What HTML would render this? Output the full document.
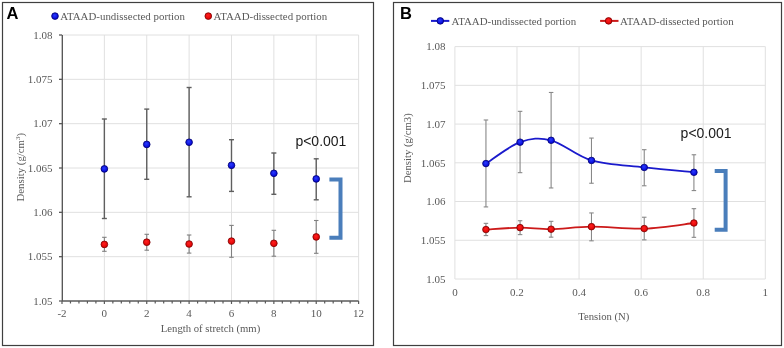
<!DOCTYPE html>
<html><head><meta charset="utf-8"><style>
html,body{margin:0;padding:0;background:#fff;width:784px;height:348px;overflow:hidden}
svg{display:block;will-change:transform}
</style></head><body>
<svg width="784" height="348" viewBox="0 0 784 348">
<defs>
<radialGradient id="gb" cx="0.45" cy="0.4" r="0.6"><stop offset="0" stop-color="#2a3cff"/><stop offset="1" stop-color="#0000d0"/></radialGradient>
<radialGradient id="gr" cx="0.45" cy="0.4" r="0.6"><stop offset="0" stop-color="#ff2020"/><stop offset="1" stop-color="#dd0000"/></radialGradient>
</defs>
<rect x="2.5" y="2.5" width="371" height="343" fill="none" stroke="#3f3f3f" stroke-width="1.2"/>
<text x="6.5" y="19.4" font-family="'Liberation Sans', sans-serif" font-weight="bold" font-size="16.5px" fill="#000">A</text>
<circle cx="55" cy="16.1" r="3.35" fill="url(#gb)" stroke="#000070" stroke-width="0.8"/>
<text x="60.3" y="19.6" font-family="'Liberation Serif', serif" font-size="10.9px" fill="#595959">ATAAD-undissected portion</text>
<circle cx="208.3" cy="16.1" r="3.35" fill="url(#gr)" stroke="#7a0000" stroke-width="0.8"/>
<text x="213.5" y="19.6" font-family="'Liberation Serif', serif" font-size="10.9px" fill="#595959">ATAAD-dissected portion</text>
<line x1="62" y1="256.67" x2="358.6" y2="256.67" stroke="#e0e0e0" stroke-width="1"/>
<line x1="62" y1="212.33" x2="358.6" y2="212.33" stroke="#e0e0e0" stroke-width="1"/>
<line x1="62" y1="168" x2="358.6" y2="168" stroke="#e0e0e0" stroke-width="1"/>
<line x1="62" y1="123.67" x2="358.6" y2="123.67" stroke="#e0e0e0" stroke-width="1"/>
<line x1="62" y1="79.33" x2="358.6" y2="79.33" stroke="#e0e0e0" stroke-width="1"/>
<line x1="62" y1="35" x2="358.6" y2="35" stroke="#e0e0e0" stroke-width="1"/>
<line x1="104.37" y1="35" x2="104.37" y2="301" stroke="#e0e0e0" stroke-width="1"/>
<line x1="146.74" y1="35" x2="146.74" y2="301" stroke="#e0e0e0" stroke-width="1"/>
<line x1="189.11" y1="35" x2="189.11" y2="301" stroke="#e0e0e0" stroke-width="1"/>
<line x1="231.49" y1="35" x2="231.49" y2="301" stroke="#e0e0e0" stroke-width="1"/>
<line x1="273.86" y1="35" x2="273.86" y2="301" stroke="#e0e0e0" stroke-width="1"/>
<line x1="316.23" y1="35" x2="316.23" y2="301" stroke="#e0e0e0" stroke-width="1"/>
<line x1="358.6" y1="35" x2="358.6" y2="301" stroke="#e0e0e0" stroke-width="1"/>
<line x1="62.3" y1="35" x2="62.3" y2="301" stroke="#505050" stroke-width="1.3"/>
<line x1="62" y1="301" x2="358.6" y2="301" stroke="#5a5a5a" stroke-width="1.3"/>
<line x1="59" y1="301" x2="62" y2="301" stroke="#5a5a5a" stroke-width="1.3"/>
<text x="52.6" y="304.7" text-anchor="end" font-family="'Liberation Serif', serif" font-size="11px" fill="#595959">1.05</text>
<line x1="59" y1="256.67" x2="62" y2="256.67" stroke="#5a5a5a" stroke-width="1.3"/>
<text x="52.6" y="260.37" text-anchor="end" font-family="'Liberation Serif', serif" font-size="11px" fill="#595959">1.055</text>
<line x1="59" y1="212.33" x2="62" y2="212.33" stroke="#5a5a5a" stroke-width="1.3"/>
<text x="52.6" y="216.03" text-anchor="end" font-family="'Liberation Serif', serif" font-size="11px" fill="#595959">1.06</text>
<line x1="59" y1="168" x2="62" y2="168" stroke="#5a5a5a" stroke-width="1.3"/>
<text x="52.6" y="171.7" text-anchor="end" font-family="'Liberation Serif', serif" font-size="11px" fill="#595959">1.065</text>
<line x1="59" y1="123.67" x2="62" y2="123.67" stroke="#5a5a5a" stroke-width="1.3"/>
<text x="52.6" y="127.37" text-anchor="end" font-family="'Liberation Serif', serif" font-size="11px" fill="#595959">1.07</text>
<line x1="59" y1="79.33" x2="62" y2="79.33" stroke="#5a5a5a" stroke-width="1.3"/>
<text x="52.6" y="83.03" text-anchor="end" font-family="'Liberation Serif', serif" font-size="11px" fill="#595959">1.075</text>
<line x1="59" y1="35" x2="62" y2="35" stroke="#5a5a5a" stroke-width="1.3"/>
<text x="52.6" y="38.7" text-anchor="end" font-family="'Liberation Serif', serif" font-size="11px" fill="#595959">1.08</text>
<line x1="62" y1="301" x2="62" y2="304" stroke="#5a5a5a" stroke-width="1.2"/>
<line x1="70.47" y1="301" x2="70.47" y2="303.5" stroke="#5a5a5a" stroke-width="1.2"/>
<line x1="78.95" y1="301" x2="78.95" y2="303.5" stroke="#5a5a5a" stroke-width="1.2"/>
<line x1="87.42" y1="301" x2="87.42" y2="303.5" stroke="#5a5a5a" stroke-width="1.2"/>
<line x1="95.9" y1="301" x2="95.9" y2="303.5" stroke="#5a5a5a" stroke-width="1.2"/>
<line x1="104.37" y1="301" x2="104.37" y2="304" stroke="#5a5a5a" stroke-width="1.2"/>
<line x1="112.85" y1="301" x2="112.85" y2="303.5" stroke="#5a5a5a" stroke-width="1.2"/>
<line x1="121.32" y1="301" x2="121.32" y2="303.5" stroke="#5a5a5a" stroke-width="1.2"/>
<line x1="129.79" y1="301" x2="129.79" y2="303.5" stroke="#5a5a5a" stroke-width="1.2"/>
<line x1="138.27" y1="301" x2="138.27" y2="303.5" stroke="#5a5a5a" stroke-width="1.2"/>
<line x1="146.74" y1="301" x2="146.74" y2="304" stroke="#5a5a5a" stroke-width="1.2"/>
<line x1="155.22" y1="301" x2="155.22" y2="303.5" stroke="#5a5a5a" stroke-width="1.2"/>
<line x1="163.69" y1="301" x2="163.69" y2="303.5" stroke="#5a5a5a" stroke-width="1.2"/>
<line x1="172.17" y1="301" x2="172.17" y2="303.5" stroke="#5a5a5a" stroke-width="1.2"/>
<line x1="180.64" y1="301" x2="180.64" y2="303.5" stroke="#5a5a5a" stroke-width="1.2"/>
<line x1="189.11" y1="301" x2="189.11" y2="304" stroke="#5a5a5a" stroke-width="1.2"/>
<line x1="197.59" y1="301" x2="197.59" y2="303.5" stroke="#5a5a5a" stroke-width="1.2"/>
<line x1="206.06" y1="301" x2="206.06" y2="303.5" stroke="#5a5a5a" stroke-width="1.2"/>
<line x1="214.54" y1="301" x2="214.54" y2="303.5" stroke="#5a5a5a" stroke-width="1.2"/>
<line x1="223.01" y1="301" x2="223.01" y2="303.5" stroke="#5a5a5a" stroke-width="1.2"/>
<line x1="231.49" y1="301" x2="231.49" y2="304" stroke="#5a5a5a" stroke-width="1.2"/>
<line x1="239.96" y1="301" x2="239.96" y2="303.5" stroke="#5a5a5a" stroke-width="1.2"/>
<line x1="248.43" y1="301" x2="248.43" y2="303.5" stroke="#5a5a5a" stroke-width="1.2"/>
<line x1="256.91" y1="301" x2="256.91" y2="303.5" stroke="#5a5a5a" stroke-width="1.2"/>
<line x1="265.38" y1="301" x2="265.38" y2="303.5" stroke="#5a5a5a" stroke-width="1.2"/>
<line x1="273.86" y1="301" x2="273.86" y2="304" stroke="#5a5a5a" stroke-width="1.2"/>
<line x1="282.33" y1="301" x2="282.33" y2="303.5" stroke="#5a5a5a" stroke-width="1.2"/>
<line x1="290.81" y1="301" x2="290.81" y2="303.5" stroke="#5a5a5a" stroke-width="1.2"/>
<line x1="299.28" y1="301" x2="299.28" y2="303.5" stroke="#5a5a5a" stroke-width="1.2"/>
<line x1="307.75" y1="301" x2="307.75" y2="303.5" stroke="#5a5a5a" stroke-width="1.2"/>
<line x1="316.23" y1="301" x2="316.23" y2="304" stroke="#5a5a5a" stroke-width="1.2"/>
<line x1="324.7" y1="301" x2="324.7" y2="303.5" stroke="#5a5a5a" stroke-width="1.2"/>
<line x1="333.18" y1="301" x2="333.18" y2="303.5" stroke="#5a5a5a" stroke-width="1.2"/>
<line x1="341.65" y1="301" x2="341.65" y2="303.5" stroke="#5a5a5a" stroke-width="1.2"/>
<line x1="350.13" y1="301" x2="350.13" y2="303.5" stroke="#5a5a5a" stroke-width="1.2"/>
<line x1="358.6" y1="301" x2="358.6" y2="304" stroke="#5a5a5a" stroke-width="1.2"/>
<text x="62" y="316.8" text-anchor="middle" font-family="'Liberation Serif', serif" font-size="11px" fill="#595959">-2</text>
<text x="104.37" y="316.8" text-anchor="middle" font-family="'Liberation Serif', serif" font-size="11px" fill="#595959">0</text>
<text x="146.74" y="316.8" text-anchor="middle" font-family="'Liberation Serif', serif" font-size="11px" fill="#595959">2</text>
<text x="189.11" y="316.8" text-anchor="middle" font-family="'Liberation Serif', serif" font-size="11px" fill="#595959">4</text>
<text x="231.49" y="316.8" text-anchor="middle" font-family="'Liberation Serif', serif" font-size="11px" fill="#595959">6</text>
<text x="273.86" y="316.8" text-anchor="middle" font-family="'Liberation Serif', serif" font-size="11px" fill="#595959">8</text>
<text x="316.23" y="316.8" text-anchor="middle" font-family="'Liberation Serif', serif" font-size="11px" fill="#595959">10</text>
<text x="358.6" y="316.8" text-anchor="middle" font-family="'Liberation Serif', serif" font-size="11px" fill="#595959">12</text>
<text x="210.5" y="331.8" text-anchor="middle" font-family="'Liberation Serif', serif" font-size="10.7px" fill="#595959">Length of stretch (mm)</text>
<text transform="translate(23.8,167.2) rotate(-90)" text-anchor="middle" font-family="'Liberation Serif', serif" font-size="10.8px" fill="#595959">Density (g/cm<tspan font-size="7px" dy="-3.5">3</tspan><tspan dy="3.5">)</tspan></text>
<line x1="104.37" y1="119" x2="104.37" y2="218.5" stroke="#5f5f5f" stroke-width="1.4"/><line x1="101.87" y1="119" x2="106.87" y2="119" stroke="#5f5f5f" stroke-width="1.4"/><line x1="101.87" y1="218.5" x2="106.87" y2="218.5" stroke="#5f5f5f" stroke-width="1.4"/>
<line x1="146.74" y1="109.1" x2="146.74" y2="179.3" stroke="#5f5f5f" stroke-width="1.4"/><line x1="144.24" y1="109.1" x2="149.24" y2="109.1" stroke="#5f5f5f" stroke-width="1.4"/><line x1="144.24" y1="179.3" x2="149.24" y2="179.3" stroke="#5f5f5f" stroke-width="1.4"/>
<line x1="189.11" y1="87.5" x2="189.11" y2="196.8" stroke="#5f5f5f" stroke-width="1.4"/><line x1="186.61" y1="87.5" x2="191.61" y2="87.5" stroke="#5f5f5f" stroke-width="1.4"/><line x1="186.61" y1="196.8" x2="191.61" y2="196.8" stroke="#5f5f5f" stroke-width="1.4"/>
<line x1="231.49" y1="139.7" x2="231.49" y2="191.4" stroke="#5f5f5f" stroke-width="1.4"/><line x1="228.99" y1="139.7" x2="233.99" y2="139.7" stroke="#5f5f5f" stroke-width="1.4"/><line x1="228.99" y1="191.4" x2="233.99" y2="191.4" stroke="#5f5f5f" stroke-width="1.4"/>
<line x1="273.86" y1="153" x2="273.86" y2="194.3" stroke="#5f5f5f" stroke-width="1.4"/><line x1="271.36" y1="153" x2="276.36" y2="153" stroke="#5f5f5f" stroke-width="1.4"/><line x1="271.36" y1="194.3" x2="276.36" y2="194.3" stroke="#5f5f5f" stroke-width="1.4"/>
<line x1="316.23" y1="158.8" x2="316.23" y2="199.8" stroke="#5f5f5f" stroke-width="1.4"/><line x1="313.73" y1="158.8" x2="318.73" y2="158.8" stroke="#5f5f5f" stroke-width="1.4"/><line x1="313.73" y1="199.8" x2="318.73" y2="199.8" stroke="#5f5f5f" stroke-width="1.4"/>
<line x1="104.37" y1="237.3" x2="104.37" y2="251.3" stroke="#808080" stroke-width="1.1"/><line x1="102.12" y1="237.3" x2="106.62" y2="237.3" stroke="#808080" stroke-width="1.1"/><line x1="102.12" y1="251.3" x2="106.62" y2="251.3" stroke="#808080" stroke-width="1.1"/>
<line x1="146.74" y1="234.3" x2="146.74" y2="250.2" stroke="#808080" stroke-width="1.1"/><line x1="144.49" y1="234.3" x2="148.99" y2="234.3" stroke="#808080" stroke-width="1.1"/><line x1="144.49" y1="250.2" x2="148.99" y2="250.2" stroke="#808080" stroke-width="1.1"/>
<line x1="189.11" y1="235" x2="189.11" y2="253.1" stroke="#808080" stroke-width="1.1"/><line x1="186.86" y1="235" x2="191.36" y2="235" stroke="#808080" stroke-width="1.1"/><line x1="186.86" y1="253.1" x2="191.36" y2="253.1" stroke="#808080" stroke-width="1.1"/>
<line x1="231.49" y1="225.4" x2="231.49" y2="257.3" stroke="#808080" stroke-width="1.1"/><line x1="229.24" y1="225.4" x2="233.74" y2="225.4" stroke="#808080" stroke-width="1.1"/><line x1="229.24" y1="257.3" x2="233.74" y2="257.3" stroke="#808080" stroke-width="1.1"/>
<line x1="273.86" y1="230.3" x2="273.86" y2="256.2" stroke="#808080" stroke-width="1.1"/><line x1="271.61" y1="230.3" x2="276.11" y2="230.3" stroke="#808080" stroke-width="1.1"/><line x1="271.61" y1="256.2" x2="276.11" y2="256.2" stroke="#808080" stroke-width="1.1"/>
<line x1="316.23" y1="220.5" x2="316.23" y2="253.3" stroke="#808080" stroke-width="1.1"/><line x1="313.98" y1="220.5" x2="318.48" y2="220.5" stroke="#808080" stroke-width="1.1"/><line x1="313.98" y1="253.3" x2="318.48" y2="253.3" stroke="#808080" stroke-width="1.1"/>
<circle cx="104.37" cy="168.9" r="3.35" fill="url(#gb)" stroke="#000070" stroke-width="0.8"/>
<circle cx="104.37" cy="244.4" r="3.35" fill="url(#gr)" stroke="#7a0000" stroke-width="0.8"/>
<circle cx="146.74" cy="144.4" r="3.35" fill="url(#gb)" stroke="#000070" stroke-width="0.8"/>
<circle cx="146.74" cy="242.2" r="3.35" fill="url(#gr)" stroke="#7a0000" stroke-width="0.8"/>
<circle cx="189.11" cy="142.25" r="3.35" fill="url(#gb)" stroke="#000070" stroke-width="0.8"/>
<circle cx="189.11" cy="244" r="3.35" fill="url(#gr)" stroke="#7a0000" stroke-width="0.8"/>
<circle cx="231.49" cy="165.3" r="3.35" fill="url(#gb)" stroke="#000070" stroke-width="0.8"/>
<circle cx="231.49" cy="241.1" r="3.35" fill="url(#gr)" stroke="#7a0000" stroke-width="0.8"/>
<circle cx="273.86" cy="173.3" r="3.35" fill="url(#gb)" stroke="#000070" stroke-width="0.8"/>
<circle cx="273.86" cy="243.3" r="3.35" fill="url(#gr)" stroke="#7a0000" stroke-width="0.8"/>
<circle cx="316.23" cy="178.9" r="3.35" fill="url(#gb)" stroke="#000070" stroke-width="0.8"/>
<circle cx="316.23" cy="236.9" r="3.35" fill="url(#gr)" stroke="#7a0000" stroke-width="0.8"/>
<text x="295.4" y="146.1" font-family="'Liberation Sans', sans-serif" font-size="14px" fill="#1a1a1a">p&lt;0.001</text>
<path d="M329.4 179.4 H340.5 V237.8 H329.4" fill="none" stroke="#4a7ebb" stroke-width="4"/>
<rect x="393.5" y="2.5" width="388" height="343" fill="none" stroke="#3f3f3f" stroke-width="1.2"/>
<text x="400" y="19.4" font-family="'Liberation Sans', sans-serif" font-weight="bold" font-size="16.5px" fill="#000">B</text>
<line x1="431" y1="20.9" x2="449.3" y2="20.9" stroke="#1a1acc" stroke-width="2"/>
<circle cx="440.3" cy="20.9" r="3.3" fill="url(#gb)" stroke="#000070" stroke-width="0.8"/>
<text x="451.5" y="24.8" font-family="'Liberation Serif', serif" font-size="10.9px" fill="#595959">ATAAD-undissected portion</text>
<line x1="600.1" y1="20.9" x2="618.5" y2="20.9" stroke="#cc1a1a" stroke-width="2"/>
<circle cx="608.6" cy="20.9" r="3.3" fill="url(#gr)" stroke="#7a0000" stroke-width="0.8"/>
<text x="620" y="24.8" font-family="'Liberation Serif', serif" font-size="10.9px" fill="#595959">ATAAD-dissected portion</text>
<line x1="454.9" y1="279" x2="765.3" y2="279" stroke="#e0e0e0" stroke-width="1"/>
<text x="445.6" y="282.7" text-anchor="end" font-family="'Liberation Serif', serif" font-size="11px" fill="#595959">1.05</text>
<line x1="454.9" y1="240.27" x2="765.3" y2="240.27" stroke="#e0e0e0" stroke-width="1"/>
<text x="445.6" y="243.97" text-anchor="end" font-family="'Liberation Serif', serif" font-size="11px" fill="#595959">1.055</text>
<line x1="454.9" y1="201.53" x2="765.3" y2="201.53" stroke="#e0e0e0" stroke-width="1"/>
<text x="445.6" y="205.23" text-anchor="end" font-family="'Liberation Serif', serif" font-size="11px" fill="#595959">1.06</text>
<line x1="454.9" y1="162.8" x2="765.3" y2="162.8" stroke="#e0e0e0" stroke-width="1"/>
<text x="445.6" y="166.5" text-anchor="end" font-family="'Liberation Serif', serif" font-size="11px" fill="#595959">1.065</text>
<line x1="454.9" y1="124.07" x2="765.3" y2="124.07" stroke="#e0e0e0" stroke-width="1"/>
<text x="445.6" y="127.77" text-anchor="end" font-family="'Liberation Serif', serif" font-size="11px" fill="#595959">1.07</text>
<line x1="454.9" y1="85.33" x2="765.3" y2="85.33" stroke="#e0e0e0" stroke-width="1"/>
<text x="445.6" y="89.03" text-anchor="end" font-family="'Liberation Serif', serif" font-size="11px" fill="#595959">1.075</text>
<line x1="454.9" y1="46.6" x2="765.3" y2="46.6" stroke="#e0e0e0" stroke-width="1"/>
<text x="445.6" y="50.3" text-anchor="end" font-family="'Liberation Serif', serif" font-size="11px" fill="#595959">1.08</text>
<line x1="454.9" y1="46.6" x2="454.9" y2="279" stroke="#e0e0e0" stroke-width="1"/>
<text x="454.9" y="295.8" text-anchor="middle" font-family="'Liberation Serif', serif" font-size="11px" fill="#595959">0</text>
<line x1="516.98" y1="46.6" x2="516.98" y2="279" stroke="#e0e0e0" stroke-width="1"/>
<text x="516.98" y="295.8" text-anchor="middle" font-family="'Liberation Serif', serif" font-size="11px" fill="#595959">0.2</text>
<line x1="579.06" y1="46.6" x2="579.06" y2="279" stroke="#e0e0e0" stroke-width="1"/>
<text x="579.06" y="295.8" text-anchor="middle" font-family="'Liberation Serif', serif" font-size="11px" fill="#595959">0.4</text>
<line x1="641.14" y1="46.6" x2="641.14" y2="279" stroke="#e0e0e0" stroke-width="1"/>
<text x="641.14" y="295.8" text-anchor="middle" font-family="'Liberation Serif', serif" font-size="11px" fill="#595959">0.6</text>
<line x1="703.22" y1="46.6" x2="703.22" y2="279" stroke="#e0e0e0" stroke-width="1"/>
<text x="703.22" y="295.8" text-anchor="middle" font-family="'Liberation Serif', serif" font-size="11px" fill="#595959">0.8</text>
<line x1="765.3" y1="46.6" x2="765.3" y2="279" stroke="#e0e0e0" stroke-width="1"/>
<text x="765.3" y="295.8" text-anchor="middle" font-family="'Liberation Serif', serif" font-size="11px" fill="#595959">1</text>
<text x="603.8" y="320.4" text-anchor="middle" font-family="'Liberation Serif', serif" font-size="10.7px" fill="#595959">Tension (N)</text>
<text transform="translate(411.4,148.1) rotate(-90)" text-anchor="middle" font-family="'Liberation Serif', serif" font-size="10.7px" fill="#595959">Density (g/cm3)</text>
<line x1="485.94" y1="119.99" x2="485.94" y2="206.92" stroke="#888888" stroke-width="1.1"/><line x1="483.69" y1="119.99" x2="488.19" y2="119.99" stroke="#888888" stroke-width="1.1"/><line x1="483.69" y1="206.92" x2="488.19" y2="206.92" stroke="#888888" stroke-width="1.1"/>
<line x1="485.94" y1="223.35" x2="485.94" y2="235.58" stroke="#888888" stroke-width="1.1"/><line x1="483.69" y1="223.35" x2="488.19" y2="223.35" stroke="#888888" stroke-width="1.1"/><line x1="483.69" y1="235.58" x2="488.19" y2="235.58" stroke="#888888" stroke-width="1.1"/>
<line x1="520.08" y1="111.34" x2="520.08" y2="172.67" stroke="#888888" stroke-width="1.1"/><line x1="517.83" y1="111.34" x2="522.33" y2="111.34" stroke="#888888" stroke-width="1.1"/><line x1="517.83" y1="172.67" x2="522.33" y2="172.67" stroke="#888888" stroke-width="1.1"/>
<line x1="520.08" y1="220.73" x2="520.08" y2="234.62" stroke="#888888" stroke-width="1.1"/><line x1="517.83" y1="220.73" x2="522.33" y2="220.73" stroke="#888888" stroke-width="1.1"/><line x1="517.83" y1="234.62" x2="522.33" y2="234.62" stroke="#888888" stroke-width="1.1"/>
<line x1="551.12" y1="92.47" x2="551.12" y2="187.96" stroke="#888888" stroke-width="1.1"/><line x1="548.87" y1="92.47" x2="553.37" y2="92.47" stroke="#888888" stroke-width="1.1"/><line x1="548.87" y1="187.96" x2="553.37" y2="187.96" stroke="#888888" stroke-width="1.1"/>
<line x1="551.12" y1="221.34" x2="551.12" y2="237.15" stroke="#888888" stroke-width="1.1"/><line x1="548.87" y1="221.34" x2="553.37" y2="221.34" stroke="#888888" stroke-width="1.1"/><line x1="548.87" y1="237.15" x2="553.37" y2="237.15" stroke="#888888" stroke-width="1.1"/>
<line x1="591.48" y1="138.07" x2="591.48" y2="183.24" stroke="#888888" stroke-width="1.1"/><line x1="589.23" y1="138.07" x2="593.73" y2="138.07" stroke="#888888" stroke-width="1.1"/><line x1="589.23" y1="183.24" x2="593.73" y2="183.24" stroke="#888888" stroke-width="1.1"/>
<line x1="591.48" y1="212.95" x2="591.48" y2="240.82" stroke="#888888" stroke-width="1.1"/><line x1="589.23" y1="212.95" x2="593.73" y2="212.95" stroke="#888888" stroke-width="1.1"/><line x1="589.23" y1="240.82" x2="593.73" y2="240.82" stroke="#888888" stroke-width="1.1"/>
<line x1="644.24" y1="149.69" x2="644.24" y2="185.78" stroke="#888888" stroke-width="1.1"/><line x1="641.99" y1="149.69" x2="646.49" y2="149.69" stroke="#888888" stroke-width="1.1"/><line x1="641.99" y1="185.78" x2="646.49" y2="185.78" stroke="#888888" stroke-width="1.1"/>
<line x1="644.24" y1="217.23" x2="644.24" y2="239.86" stroke="#888888" stroke-width="1.1"/><line x1="641.99" y1="217.23" x2="646.49" y2="217.23" stroke="#888888" stroke-width="1.1"/><line x1="641.99" y1="239.86" x2="646.49" y2="239.86" stroke="#888888" stroke-width="1.1"/>
<line x1="693.91" y1="154.76" x2="693.91" y2="190.58" stroke="#888888" stroke-width="1.1"/><line x1="691.66" y1="154.76" x2="696.16" y2="154.76" stroke="#888888" stroke-width="1.1"/><line x1="691.66" y1="190.58" x2="696.16" y2="190.58" stroke="#888888" stroke-width="1.1"/>
<line x1="693.91" y1="208.67" x2="693.91" y2="237.33" stroke="#888888" stroke-width="1.1"/><line x1="691.66" y1="208.67" x2="696.16" y2="208.67" stroke="#888888" stroke-width="1.1"/><line x1="691.66" y1="237.33" x2="696.16" y2="237.33" stroke="#888888" stroke-width="1.1"/>
<path d="M485.94 163.59 C491.63 160.02 509.22 146.06 520.08 142.18 C530.95 138.3 539.23 137.26 551.12 140.3 C563.02 143.35 575.96 155.92 591.48 160.44 C607 164.96 627.17 165.45 644.24 167.43 C661.32 169.41 685.63 171.51 693.91 172.32" fill="none" stroke="#1a1acc" stroke-width="1.8"/>
<path d="M485.94 229.55 C491.63 229.23 509.22 227.69 520.08 227.63 C530.95 227.57 539.23 229.36 551.12 229.2 C563.02 229.04 575.96 226.77 591.48 226.67 C607 226.56 627.17 229.2 644.24 228.59 C661.32 227.98 685.63 223.93 693.91 223" fill="none" stroke="#cc1a1a" stroke-width="1.8"/>
<circle cx="485.94" cy="163.59" r="3.3" fill="url(#gb)" stroke="#000070" stroke-width="0.8"/>
<circle cx="485.94" cy="229.55" r="3.3" fill="url(#gr)" stroke="#7a0000" stroke-width="0.8"/>
<circle cx="520.08" cy="142.18" r="3.3" fill="url(#gb)" stroke="#000070" stroke-width="0.8"/>
<circle cx="520.08" cy="227.63" r="3.3" fill="url(#gr)" stroke="#7a0000" stroke-width="0.8"/>
<circle cx="551.12" cy="140.3" r="3.3" fill="url(#gb)" stroke="#000070" stroke-width="0.8"/>
<circle cx="551.12" cy="229.2" r="3.3" fill="url(#gr)" stroke="#7a0000" stroke-width="0.8"/>
<circle cx="591.48" cy="160.44" r="3.3" fill="url(#gb)" stroke="#000070" stroke-width="0.8"/>
<circle cx="591.48" cy="226.67" r="3.3" fill="url(#gr)" stroke="#7a0000" stroke-width="0.8"/>
<circle cx="644.24" cy="167.43" r="3.3" fill="url(#gb)" stroke="#000070" stroke-width="0.8"/>
<circle cx="644.24" cy="228.59" r="3.3" fill="url(#gr)" stroke="#7a0000" stroke-width="0.8"/>
<circle cx="693.91" cy="172.32" r="3.3" fill="url(#gb)" stroke="#000070" stroke-width="0.8"/>
<circle cx="693.91" cy="223" r="3.3" fill="url(#gr)" stroke="#7a0000" stroke-width="0.8"/>
<text x="680.6" y="137.8" font-family="'Liberation Sans', sans-serif" font-size="14px" fill="#1a1a1a">p&lt;0.001</text>
<path d="M714.7 171 H725.6 V229.7 H714.7" fill="none" stroke="#4a7ebb" stroke-width="4"/>
</svg>
</body></html>
